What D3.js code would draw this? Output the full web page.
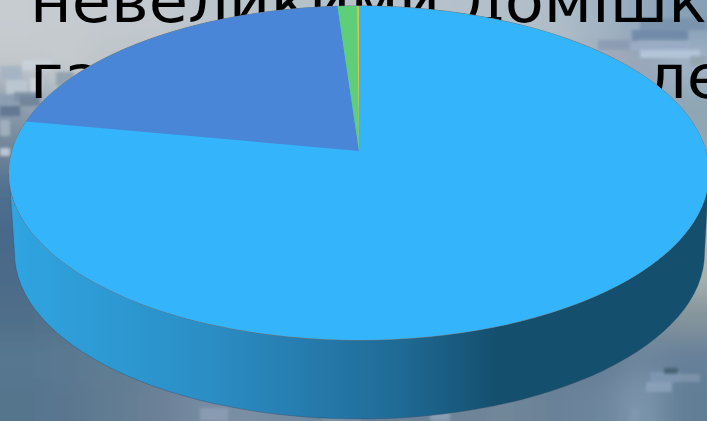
<!DOCTYPE html>
<html lang="uk">
<head>
<meta charset="utf-8">
<script src="https://cdn.jsdelivr.net/npm/d3@7/dist/d3.min.js"></script>
<style>
html,body{margin:0;padding:0;background:#6f8398;overflow:hidden}
svg{display:block}
text{font-family:"DejaVu Sans",sans-serif;fill:#000}
</style>
</head>
<body>
<svg id="chart" width="707" height="421"></svg>
<script>
// Shares of the pie, clockwise from twelve o'clock
const sliceNames = ["a", "b", "c", "d"];
const sliceValues = [78.0, 20.9, 1.0, 0.1];
const sliceColors = ["#34b5fb", "#4a86d8", "#5fce78", "#e2c43a"];

// Slide headline fragments left visible around the pie
const headlineLines = ["невеликими домішками"];
const headlineFragments = ["га", "ле"];

// Sky behind the pie, coarse colour grid
const skyTones = [
  ["#c6ccd0","#c5cbcf","#c3c9ce","#c2c9cf","#bcc5cc","#b8c3cb","#b6c1c9","#b6c2ca","#b6c2cb","#b8c3cc","#b4c0ca","#b2bfc9","#aebdc8","#a3b5c4","#93a9bc","#86a0b6"],
  ["#c2c8cc","#c4cacd","#bec4c9","#bcc3c8","#b9c1c7","#bcc4ca","#bcc4cb","#bfc6cc","#c0c7cd","#bec5cc","#bcc4cc","#b8c1c9","#b3bcc6","#a3afbd","#98a6b8","#a3b3c6"],
  ["#8a9bac","#a9b6c2","#a4b2bd","#a4b1bc","#9fadb9","#9caab6","#9caab6","#a0aeb9","#a0aeb9","#a0aeb9","#a4b1bc","#a8b5bf","#a4b3be","#98aab8","#93a8b6","#8ea6b4"],
  ["#72869a","#7e91a3","#7f92a4","#7c90a2","#788ca0","#788ca0","#788ca0","#7a8ea0","#7c90a2","#7c90a2","#7e92a3","#8699a8","#8da0ae","#8fa3b0","#8fa5b1","#92a7b2"],
  ["#50708f","#57748f","#597590","#597590","#597590","#597590","#597590","#5c7892","#5f7b94","#617c94","#637d94","#6a8296","#73899a","#7f93a0","#93a3aa","#a6b2b4"],
  ["#49698b","#4e6c8b","#50708e","#50708e","#50708e","#50708e","#50708e","#54728f","#587590","#5a7691","#5c7890","#637c91","#6a8294","#798d9a","#93a2a8","#b2babb"],
  ["#4b6a89","#4e6d8a","#51708c","#51708c","#51708c","#51708c","#53718d","#56748e","#58758f","#5a7690","#5c7790","#637c90","#6c8394","#7d9099","#97a4a6","#a8b3b0"],
  ["#4f6e89","#527189","#57758d","#5a778d","#5a778d","#5a778d","#5a778d","#5a778d","#5a768d","#5a768d","#5b768d","#5f7a8e","#657e90","#6f8594","#7c8f98","#84949b"],
  ["#567790","#5a7a92","#5f7d93","#627f94","#647f94","#667f95","#667f95","#647e94","#627c93","#607b92","#5f7a91","#5f7a90","#607a90","#627c92","#6d869c","#66809a"],
  ["#55748d","#5a768f","#607b92","#6a8096","#748aa0","#7a8ea4","#768ba0","#6e859b","#6a8298","#6c8299","#6e8499","#708699","#6a8298","#6c859d","#7c94ac","#627e96"]
];

// Small cloud patches: x, y, w, h, colour
const cloudPatches = [
  [0,66,22,14,"#a4b4c4"],[22,60,30,10,"#c9d2da"],[6,80,22,14,"#bcc8d2"],[30,78,12,14,"#d0d6da"],
  [0,94,14,12,"#8c9fb2"],[14,92,26,10,"#7d90a6"],[20,96,20,10,"#6f8298"],[0,106,20,10,"#5f7590"],
  [0,120,10,16,"#a3b2c0"],[0,148,10,8,"#c2ced8"],[56,72,18,14,"#8fa0ae"],[64,84,14,8,"#6f8496"],
  [640,18,67,12,"#7a93ad"],[632,30,56,10,"#6e88a8"],[598,40,40,10,"#8b9bb2"],[630,42,60,8,"#9badc6"],
  [640,50,60,8,"#b6c7dc"],[600,52,26,8,"#a0a8ba"],[690,56,17,10,"#93a4b0"],
  [650,372,30,10,"#7f98b2"],[646,382,26,10,"#8ba2ba"],[680,374,20,8,"#7d94aa"],[664,368,14,6,"#475f70"],
  [630,408,10,13,"#8198ae"],[200,408,28,13,"#8a9db4"],[322,414,40,7,"#8196ac"],[430,412,20,9,"#8fa2b6"]
];

// Cylinder geometry: the top rim, the lower rim and the hub seen in perspective
const topRim = {cx: 359, cy: 173, rx: 350, ry: 167};
const lowRim = {cx: 359.5, cy: 253, rx: 345, ry: 166};
const hubY = 151;

const svg = d3.select("#chart");
const width = +svg.attr("width"), height = +svg.attr("height");
const defs = svg.append("defs");

defs.append("filter").attr("id", "soft").attr("x", "-10%").attr("y", "-10%").attr("width", "120%").attr("height", "120%")
  .append("feGaussianBlur").attr("stdDeviation", 14);
defs.append("filter").attr("id", "softer").attr("x", "-5%").attr("y", "-5%").attr("width", "110%").attr("height", "110%")
  .append("feGaussianBlur").attr("stdDeviation", 1.8);

// Side wall shading runs left to right, lit at the left
const wallShade = d3.scaleLinear()
  .domain([0, 0.28, 0.42, 0.56, 0.7, 1])
  .range(["#2fa4e0", "#2b8ec5", "#267cae", "#1f6a95", "#144f6e", "#144f6e"]);
const wallGrad = defs.append("linearGradient").attr("id", "wall")
  .attr("gradientUnits", "userSpaceOnUse")
  .attr("x1", lowRim.cx - lowRim.rx).attr("x2", lowRim.cx + lowRim.rx).attr("y1", 0).attr("y2", 0);
wallGrad.selectAll("stop").data(wallShade.domain()).join("stop")
  .attr("offset", d => d).attr("stop-color", d => wallShade(d));

// Background
const gx = d3.scaleBand().domain(d3.range(skyTones[0].length)).range([0, width]);
const gy = d3.scaleBand().domain(d3.range(skyTones.length)).range([0, height]);
const sky = svg.append("g");
const skyGrid = sky.append("g").attr("filter", "url(#soft)");
skyGrid.append("rect").attr("x", -40).attr("y", -40).attr("width", width + 80).attr("height", height + 80).attr("fill", "#7b8fa3");
skyTones.forEach((row, r) => {
  skyGrid.selectAll(null).data(row).join("rect")
    .attr("x", (d, c) => c === 0 ? -40 : gx(c))
    .attr("y", r === 0 ? -40 : gy(r))
    .attr("width", (d, c) => gx.bandwidth() + (c === 0 ? 40 : 1) + (c === row.length - 1 ? 40 : 0))
    .attr("height", gy.bandwidth() + (r === 0 ? 40 : 1) + (r === skyTones.length - 1 ? 40 : 0))
    .attr("fill", d => d);
});
sky.append("g").attr("filter", "url(#softer)").attr("opacity", 0.9).selectAll("rect").data(cloudPatches).join("rect")
  .attr("x", d => d[0]).attr("y", d => d[1]).attr("width", d => d[2]).attr("height", d => d[3])
  .attr("fill", d => d[4]);

// Headline, set slightly wide
const widen = 1.065;
const headline = (x, y, s) => svg.append("text")
  .attr("transform", `translate(${x},${y}) scale(${widen},1)`)
  .attr("font-size", 60).text(s);
headline(30, 22, headlineLines[0]);
headline(30, 98, headlineFragments[0]);
headline(646, 98, headlineFragments[1]);

// Perspective mapping of the unit disc onto the top rim
const lift = topRim.cy - hubY;
const persp = lift / topRim.ry;
const squash = Math.sqrt(1 - persp * persp);
function project(theta) {
  const u = Math.sin(theta), v = Math.cos(theta);
  const w = 1 + persp * v;
  return {
    x: topRim.rx * squash * u / w,
    y: (topRim.ry * squash * squash * v + lift) / w
  };
}
// Angle along the rim ellipse, measured clockwise from its top
function rimAngle(theta) {
  const p = project(theta);
  const t = Math.atan2(p.x / topRim.rx, p.y / topRim.ry);
  return t < 0 ? t + 2 * Math.PI : t;
}
const onRim = (rim, t) => [rim.cx + rim.rx * Math.sin(t), rim.cy - rim.ry * Math.cos(t)];

const pie = d3.pie().sort(null).value((d, i) => sliceValues[i]);
const arcs = pie(sliceNames).map((a, i) => {
  const t0 = i === 0 ? 0 : rimAngle(a.startAngle);
  const t1 = i === sliceNames.length - 1 ? 2 * Math.PI : rimAngle(a.endAngle);
  return {t0, t1, color: sliceColors[i]};
});

// Side wall, only the part of each slice on the near half of the rim
const walls = arcs.map(a => {
  const lo = Math.max(a.t0, Math.PI / 2), hi = Math.min(a.t1, 3 * Math.PI / 2);
  if (lo >= hi) return null;
  const [ax, ay] = onRim(topRim, lo), [bx, by] = onRim(topRim, hi);
  const [cx, cy] = onRim(lowRim, hi), [dx, dy] = onRim(lowRim, lo);
  return `M${ax},${ay}A${topRim.rx},${topRim.ry} 0 ${hi - lo > Math.PI ? 1 : 0} 1 ${bx},${by}` +
         `L${cx},${cy}A${lowRim.rx},${lowRim.ry} 0 ${hi - lo > Math.PI ? 1 : 0} 0 ${dx},${dy}Z`;
}).filter(Boolean);
svg.append("g").selectAll("path").data(walls).join("path")
  .attr("d", d => d).attr("fill", "url(#wall)")
  .attr("stroke", "#2f4a60").attr("stroke-opacity", 0.55).attr("stroke-width", 0.7);

// Top face: rim outline, then slices meeting at the hub
svg.append("ellipse").attr("cx", topRim.cx).attr("cy", topRim.cy).attr("rx", topRim.rx).attr("ry", topRim.ry)
  .attr("fill", sliceColors[0]).attr("stroke", "#6d7c88").attr("stroke-width", 1);
svg.append("g").selectAll("path").data(arcs).join("path")
  .attr("d", a => {
    const [ax, ay] = onRim(topRim, a.t0), [bx, by] = onRim(topRim, a.t1 - 1e-4);
    return `M${topRim.cx},${hubY}L${ax},${ay}A${topRim.rx},${topRim.ry} 0 ${a.t1 - a.t0 > Math.PI ? 1 : 0} 1 ${bx},${by}Z`;
  })
  .attr("fill", a => a.color);
</script>
</body>
</html>
